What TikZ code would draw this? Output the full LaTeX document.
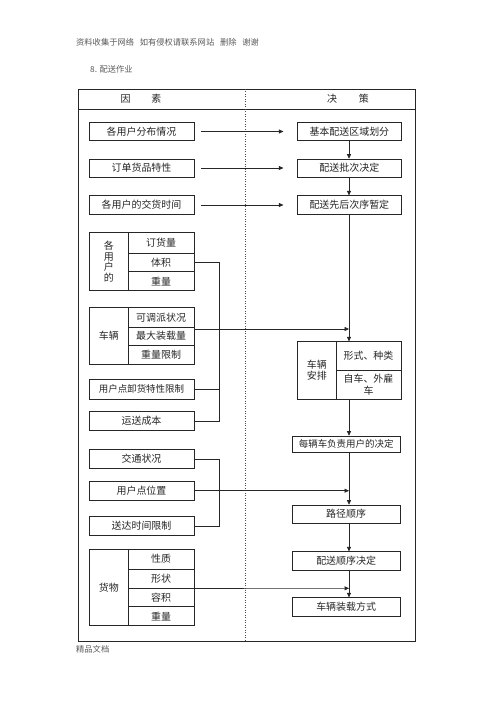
\documentclass[tikz,border=0pt]{standalone}
\usepackage{fontspec}
\setmainfont{Noto Sans CJK SC}
\usetikzlibrary{arrows.meta}
\newcommand\mybox[7][]{\node[bx,#1,minimum width={(#5-#3)*1bp},minimum height={(#6-#4)*1bp}] (#2) at ({(#3+#5)/2},{(#4+#6)/2}) {#7};}
\begin{document}
\begin{tikzpicture}[x=1bp,y=-1bp,
  bx/.style={draw=black!85, line width=0.6bp, inner sep=0pt, font=\fontsize{10}{11.5}\selectfont, text=black!85, align=center},
  arr/.style={draw=black!85, line width=0.6bp, -{Triangle[length=4.5bp,width=4bp]}},
  ln/.style={draw=black!85, line width=0.6bp},
  note/.style={anchor=west, inner sep=0pt, text=black!65, font=\fontsize{8.3}{9}\selectfont}]
\path[use as bounding box] (0,0) rectangle (500,707);
% header texts
\node[note] (hd) at (76,42) {资料收集于网络\hspace{0.7em}如有侵权请联系网站\hspace{0.7em}删除\hspace{0.7em}谢谢};
\node[note] (ttl) at (90,69) {8.\hspace{0.3em}配送作业};
\node[note] (ft) at (76,649) {精品文档};
% frame
\draw[ln] (78,89) rectangle (415,641);
\draw[ln] (78,109) -- (415,109);
\draw[draw=black!70, line width=0.5bp, dotted] (245.7,89) -- (245.7,641);
\node[inner sep=0pt, font=\fontsize{10}{11}\selectfont, text=black!85] (hl) at (141,99) {因\hspace{2.1em}素};
\node[inner sep=0pt, font=\fontsize{10}{11}\selectfont, text=black!85] (hr) at (348,99) {决\hspace{2.2em}策};
% left single boxes
\mybox{a1}{89}{122.5}{194}{140.5}{各用户分布情况}
\mybox{a2}{89}{159}{194}{177}{订单货品特性}
\mybox{a3}{89}{195.7}{194}{214.3}{各用户的交货时间}
% right top boxes
\mybox{r1}{297.7}{122.5}{401}{140.5}{基本配送区域划分}
\mybox{r2}{297.7}{159}{401}{177}{配送批次决定}
\mybox{r3}{297.7}{195.7}{401}{214.3}{配送先后次序暂定}
% group 1
\mybox[font=\fontsize{10}{10.8}\selectfont]{u0}{89.3}{232.7}{128.3}{290.7}{各\\用\\户\\的}
\mybox{u1}{128.3}{232.7}{194}{253.3}{订货量}
\mybox{u2}{128.3}{253.3}{194}{271.7}{体积}
\mybox{u3}{128.3}{271.7}{194}{290.7}{重量}
% group 2
\mybox{v0}{89.3}{307.3}{128.3}{364}{车辆}
\mybox{v1}{128.3}{307.3}{194}{327.3}{可调派状况}
\mybox{v2}{128.3}{327.3}{194}{345}{最大装载量}
\mybox{v3}{128.3}{345}{194}{364}{重量限制}
% other left boxes
\mybox[font=\fontsize{9.5}{11}\selectfont]{b1}{89}{379.3}{194}{399}{用户点卸货特性限制}
\mybox{b2}{89}{411.7}{194}{430}{运送成本}
\mybox{c1}{89}{449.3}{194}{468.3}{交通状况}
\mybox{c2}{89}{481.7}{194}{500.7}{用户点位置}
\mybox{c3}{89}{516.7}{194}{535.7}{送达时间限制}
% group 3
\mybox{g0}{89.3}{549}{128.3}{625.7}{货物}
\mybox{g1}{128.3}{549}{194}{569.3}{性质}
\mybox{g2}{128.3}{569.3}{194}{588.3}{形状}
\mybox{g3}{128.3}{588.3}{194}{606.7}{容积}
\mybox{g4}{128.3}{606.7}{194}{625.7}{重量}
% vehicle arrangement
\mybox{w0}{297.7}{341.7}{336}{399}{车辆\\安排}
\mybox{w1}{336}{341.7}{401}{370.7}{形式、种类}
\mybox{w2}{336}{370.7}{401}{399}{自车、外雇\\车}
% lower right boxes
\mybox[font=\fontsize{9.5}{11}\selectfont]{d1}{292.3}{436}{400}{452}{每辆车负责用户的决定}
\mybox{d2}{292.3}{505}{400}{523.3}{路径顺序}
\mybox{d3}{292.3}{551.7}{400}{570}{配送顺序决定}
\mybox{d4}{292.3}{597.7}{400}{616}{车辆装载方式}
% spine and junctions
\coordinate (sp) at (349,0);
\coordinate (j1) at (349,329);
\coordinate (j2) at (349,490.7);
\coordinate (j3) at (349,588.3);
\coordinate (bk) at (219,0);
% horizontal arrows rows 1-3
\draw[arr, shorten <=7bp, shorten >=14bp] (a1) -- (r1);
\draw[arr, shorten <=7bp, shorten >=14bp] (a2) -- (r2);
\draw[arr, shorten <=7bp, shorten >=14bp] (a3) -- (r3);
% spine arrows
\draw[arr] (r1.south -| sp) -- (r2.north -| sp);
\draw[arr] (r2.south -| sp) -- (r3.north -| sp);
\draw[arr] (r3.south -| sp) -- (w0.north -| sp);
\draw[arr] (w2.south -| sp) -- (d1.north -| sp);
\draw[arr] (d1.south -| sp) -- (d2.north -| sp);
\draw[arr] (d2.south -| sp) -- (d3.north -| sp);
\draw[arr] (d3.south -| sp) -- (d4.north -| sp);
% feeds into spine
\draw[arr] (j1 -| v2.east) -- (j1);
\draw[arr] (j2 -| c2.east) -- (j2);
\draw[arr] (g2.south west) -- (j3);
% brackets
\draw[ln] (u2.east) -| (bk |- b2.east) -- (b2.east);
\draw[ln] (b1.east) -- (bk |- b1.east);
\draw[ln] (c1.east) -| (bk |- c3.east) -- (c3.east);
\end{tikzpicture}
\end{document}
